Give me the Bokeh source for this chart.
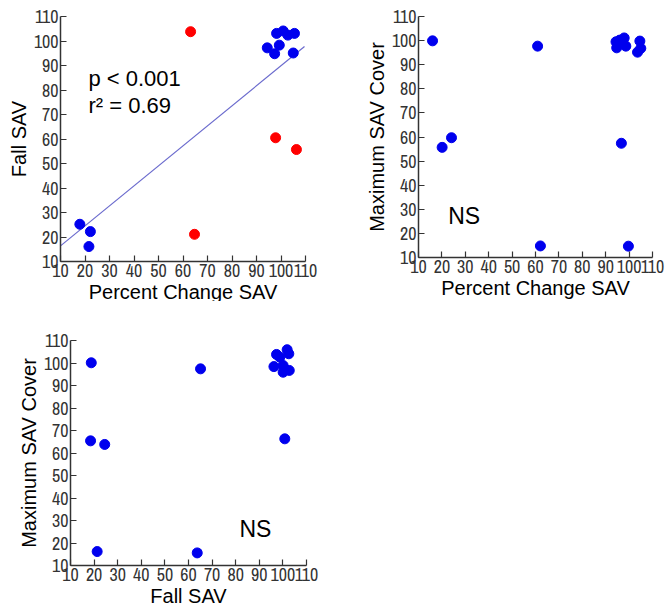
from bokeh.plotting import figure
from bokeh.layouts import column, row
from bokeh.models import Range1d, FixedTicker
from bokeh.core.properties import value
from bokeh.embed import file_html
from bokeh.resources import INLINE

# ---------------- data ----------------
ticks = [10, 20, 30, 40, 50, 60, 70, 80, 90, 100, 110]
tick_labels = ["10", "20", "30", "40", "50", "60", "70", "80", "90", "100", "110"]

# Panel A: Percent Change SAV vs Fall SAV
a_pct_blue = [17.9, 22.2, 21.6, 94.4, 97.4, 99.3, 98.2, 100.9, 102.8, 105.5, 105.0]
a_fall_blue = [25.2, 22.2, 16.1, 97.2, 94.8, 98.3, 103.1, 104.1, 102.4, 103.1, 95.1]
a_pct_red = [63.1, 64.7, 97.8, 106.3]
a_fall_red = [103.8, 21.1, 60.5, 55.7]
fit_intercept = 8.2
fit_slope = 0.817
fit_x_span = [10, 109.6]
a_stats = ["p < 0.001", "r\u00b2 = 0.69"]

# Panel B: Percent Change SAV vs Maximum SAV Cover
b_pct = [16.0, 20.1, 24.1, 60.9, 62.1, 96.7, 99.7,
         94.4, 94.7, 96.0, 97.9, 98.6, 104.6, 103.6, 105.0]
b_max = [99.9, 55.7, 59.7, 97.7, 14.8, 57.4, 14.7,
         99.5, 97.0, 100.2, 101.1, 97.7, 99.8, 95.2, 96.8]

# Panel C: Fall SAV vs Maximum SAV Cover
c_fall = [18.8, 18.5, 24.5, 21.3, 65.1, 63.7, 100.8,
          97.3, 98.7, 101.8, 102.5, 96.2, 100.1, 100.1, 102.7]
c_max = [100.1, 65.4, 63.8, 16.2, 97.4, 15.6, 66.3,
         103.8, 102.6, 105.9, 104.1, 98.4, 98.9, 95.9, 96.7]

ns_text = ["NS"]

BLUE = "#0000ee"
RED = "#ff0000"
AXIS = "#333333"
TICK_FONT = "'Archivo Narrow', 'PT Sans Narrow', 'Liberation Sans'"
LABEL_FONT = "Liberation Sans"


def make_panel(fw, fh, left, right, top, bottom, xlabel, ylabel):
    p = figure(frame_width=fw, frame_height=fh,
               x_range=Range1d(10, 110), y_range=Range1d(10, 110),
               output_backend="svg", toolbar_location=None,
               min_border_left=left, min_border_right=right,
               min_border_top=top, min_border_bottom=bottom,
               x_axis_label=xlabel, y_axis_label=ylabel)
    p.outline_line_color = None
    p.grid.visible = False
    p.background_fill_color = "white"
    p.border_fill_color = "white"
    for ax in (p.xaxis[0], p.yaxis[0]):
        ax.ticker = FixedTicker(ticks=ticks)
        ax.major_label_overrides = {t: l for t, l in zip(ticks, tick_labels)}
        ax.major_tick_in = 6
        ax.major_tick_out = 0
        ax.minor_tick_in = 0
        ax.minor_tick_out = 0
        ax.axis_line_color = AXIS
        ax.axis_line_width = 1.5
        ax.major_tick_line_color = AXIS
        ax.major_tick_line_width = 1.2
        ax.major_label_text_font = TICK_FONT
        ax.major_label_text_font_size = "18px"
        ax.major_label_text_color = "#333333"
        ax.major_label_standoff = 2
        ax.axis_label_text_font = LABEL_FONT
        ax.axis_label_text_font_size = "20px"
        ax.axis_label_text_font_style = "normal"
        ax.axis_label_text_color = "black"
        ax.axis_label_standoff = 1
    return p


# Panel A
p1 = make_panel(245, 245, 60, 25, 12, 43, "Percent Change SAV", "Fall SAV")
fit_y = [fit_intercept + fit_slope * x for x in fit_x_span]
p1.line(fit_x_span, fit_y, line_color="#6a6acd", line_width=1.2)
p1.scatter(a_pct_blue, a_fall_blue, size=10, fill_color=BLUE, line_color=BLUE)
p1.scatter(a_pct_red, a_fall_red, size=10, fill_color=RED, line_color=RED)
p1.text(x=[21.4, 21.4], y=[84.7, 73.7], text=a_stats,
        text_font=value(LABEL_FONT), text_font_size=value("22px"),
        text_baseline="alphabetic", text_align="left", text_color="black")

# Panel B
p2 = make_panel(234, 241, 88, 13, 16, 43, "Percent Change SAV", "Maximum SAV Cover")
p2.scatter(b_pct, b_max, size=10, fill_color=BLUE, line_color=BLUE)
p2.text(x=[22.7], y=[27.3], text=ns_text,
        text_font=value(LABEL_FONT), text_font_size=value("23px"),
        text_baseline="alphabetic", text_align="left", text_color="black")

# Panel C
p3 = make_panel(236, 225, 70, 24, 39, 46, "Fall SAV", "Maximum SAV Cover")
p3.scatter(c_fall, c_max, size=10, fill_color=BLUE, line_color=BLUE)
p3.text(x=[81.6], y=[26.4], text=ns_text,
        text_font=value(LABEL_FONT), text_font_size=value("23px"),
        text_baseline="alphabetic", text_align="left", text_color="black")

layout = column(row(p1, p2), p3)
open("out.html", "w").write(file_html(layout, INLINE))
